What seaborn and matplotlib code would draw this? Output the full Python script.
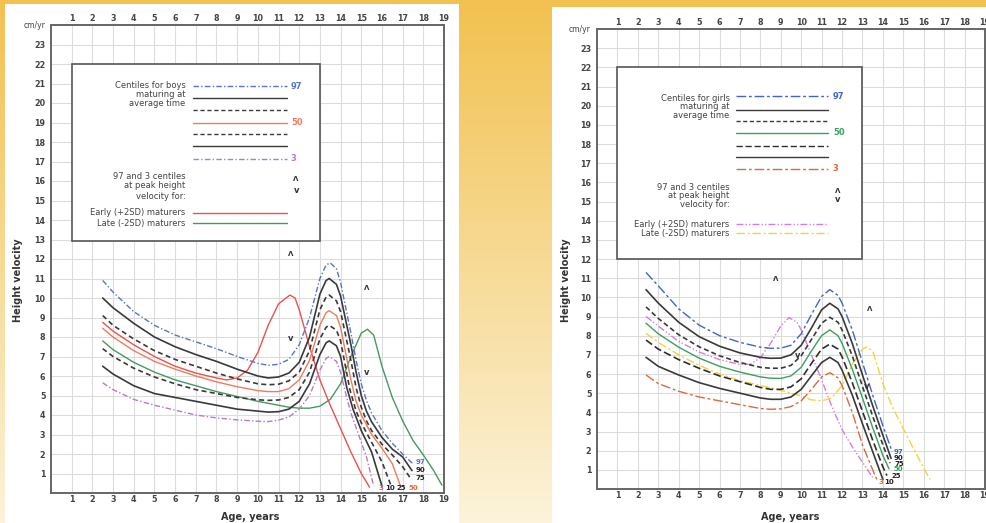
import numpy as np
import matplotlib
matplotlib.use("Agg")
import matplotlib.pyplot as plt
import seaborn as sns
from matplotlib.patches import Rectangle

sns.set_style("white")
plt.rcParams['font.family'] = ['DejaVu Sans']

# ---------------- data: boys (left panel) ----------------
B97_X = [2.5, 3, 4, 5, 6, 7, 8, 9, 10, 10.5, 11, 11.5, 12, 12.5, 13, 13.3, 13.5, 13.8, 14, 14.5, 14.75, 15, 15.25, 15.5, 16, 16.5, 17, 17.5]
B97_Y = [10.9, 10.3, 9.3, 8.6, 8.1, 7.75, 7.4, 7.0, 6.65, 6.55, 6.6, 6.85, 7.6, 9.0, 11.0, 11.7, 11.8, 11.5, 10.8, 8.2, 6.8, 5.6, 4.75, 4.1, 3.2, 2.55, 2.0, 1.5]
B90_X = [2.5, 3, 4, 5, 6, 7, 8, 9, 10, 10.5, 11, 11.5, 12, 12.5, 13, 13.3, 13.45, 13.8, 14, 14.5, 14.75, 15, 15.25, 15.5, 16, 16.5, 17, 17.45]
B90_Y = [10.0, 9.5, 8.7, 8.0, 7.5, 7.1, 6.75, 6.35, 6.0, 5.9, 5.95, 6.15, 6.7, 8.0, 10.2, 10.9, 11.0, 10.7, 10.1, 7.6, 6.2, 5.0, 4.2, 3.65, 2.85, 2.25, 1.85, 1.15]
B75_X = [2.5, 3, 4, 5, 6, 7, 8, 9, 10, 10.5, 11, 11.5, 12, 12.5, 13, 13.3, 13.45, 13.8, 14, 14.5, 14.75, 15, 15.25, 15.5, 16, 16.5, 17, 17.35]
B75_Y = [9.1, 8.6, 7.9, 7.3, 6.85, 6.5, 6.15, 5.85, 5.6, 5.55, 5.58, 5.75, 6.2, 7.3, 9.4, 10.05, 10.15, 9.85, 9.3, 6.8, 5.4, 4.4, 3.7, 3.2, 2.5, 1.95, 1.35, 0.8]
B50_X = [2.5, 3, 4, 5, 6, 7, 8, 9, 10, 10.5, 11, 11.5, 12, 12.5, 13, 13.3, 13.45, 13.8, 14, 14.5, 14.75, 15, 15.5, 16, 16.5, 16.9]
B50_Y = [8.45, 8.0, 7.3, 6.75, 6.35, 6.0, 5.7, 5.45, 5.25, 5.2, 5.2, 5.35, 5.8, 6.8, 8.6, 9.25, 9.35, 9.1, 8.5, 5.8, 4.7, 4.0, 3.0, 2.3, 1.5, 0.35]
B25_X = [2.5, 3, 4, 5, 6, 7, 8, 9, 10, 10.5, 11, 11.5, 12, 12.5, 13, 13.3, 13.45, 13.8, 14, 14.45, 14.75, 15, 15.5, 16, 16.45]
B25_Y = [7.4, 7.0, 6.4, 5.95, 5.6, 5.3, 5.1, 4.9, 4.78, 4.75, 4.77, 4.9, 5.3, 6.2, 7.9, 8.5, 8.6, 8.35, 7.8, 5.3, 4.2, 3.6, 2.6, 1.6, 0.35]
B10_X = [2.5, 3, 4, 5, 6, 7, 8, 9, 10, 10.5, 11, 11.5, 12, 12.5, 13, 13.3, 13.45, 13.8, 14, 14.3, 14.6, 15, 15.5, 16.0]
B10_Y = [6.5, 6.1, 5.5, 5.1, 4.9, 4.7, 4.5, 4.3, 4.2, 4.15, 4.17, 4.3, 4.7, 5.6, 7.1, 7.7, 7.8, 7.55, 7.0, 5.4, 4.3, 3.2, 2.1, 0.35]
B03_X = [2.5, 3, 4, 5, 6, 7, 8, 9, 10, 10.5, 11, 11.5, 12, 12.5, 13, 13.3, 13.45, 13.8, 14, 14.2, 14.5, 15, 15.25, 15.6]
B03_Y = [5.65, 5.3, 4.8, 4.5, 4.25, 4.0, 3.85, 3.75, 3.68, 3.66, 3.74, 3.9, 4.3, 5.0, 6.3, 6.9, 7.0, 6.75, 6.2, 5.3, 4.1, 2.6, 1.86, 0.35]
B_EARLY_X = [2.5, 3, 4, 5, 6, 7, 8, 8.5, 9, 9.5, 10, 10.5, 11, 11.55, 11.8, 12, 12.5, 13, 13.5, 14, 14.5, 15, 15.4]
B_EARLY_Y = [8.75, 8.3, 7.6, 7.0, 6.5, 6.15, 5.9, 5.8, 5.9, 6.3, 7.2, 8.6, 9.7, 10.15, 10.0, 9.4, 7.5, 5.8, 4.5, 3.3, 2.1, 1.0, 0.3]
B_LATE_X = [2.5, 3, 4, 5, 6, 7, 8, 9, 10, 11, 11.5, 12, 12.5, 13, 13.5, 14, 14.5, 15, 15.3, 15.6, 16, 16.5, 17, 17.5, 18, 18.5, 18.9]
B_LATE_Y = [7.8, 7.35, 6.7, 6.2, 5.8, 5.5, 5.2, 4.95, 4.7, 4.5, 4.4, 4.35, 4.35, 4.45, 4.8, 5.6, 7.0, 8.2, 8.4, 8.1, 6.5, 4.9, 3.7, 2.7, 1.95, 1.15, 0.4]

# ---------------- data: girls (right panel) ----------------
G_X = [2.4, 3, 4, 5, 6, 7, 8, 8.5, 9, 9.5, 10, 10.5, 11, 11.4, 11.8, 12, 12.5, 13, 13.5, 14]
G97_X = G_X + [14.45]
G97_Y = [11.3, 10.6, 9.4, 8.55, 8.0, 7.65, 7.4, 7.34, 7.35, 7.5, 8.1, 9.1, 10.05, 10.4, 10.1, 9.7, 8.3, 6.6, 4.9, 3.3, 1.95]
G90_X = G_X + [14.4]
G90_Y = [10.4, 9.7, 8.7, 7.95, 7.45, 7.1, 6.87, 6.82, 6.83, 7.0, 7.5, 8.4, 9.35, 9.69, 9.4, 9.0, 7.6, 5.95, 4.35, 2.8, 1.6]
G75_X = G_X + [14.35]
G75_Y = [9.5, 8.9, 8.05, 7.42, 6.95, 6.6, 6.35, 6.3, 6.3, 6.45, 6.95, 7.8, 8.65, 8.96, 8.7, 8.3, 6.95, 5.35, 3.8, 2.3, 1.35]
G50_X = G_X + [14.3]
G50_Y = [8.65, 8.1, 7.4, 6.83, 6.4, 6.1, 5.85, 5.78, 5.77, 5.9, 6.35, 7.2, 8.0, 8.3, 8.0, 7.6, 6.25, 4.75, 3.2, 1.75, 1.05]
G25_X = G_X + [14.2]
G25_Y = [7.77, 7.3, 6.75, 6.3, 5.9, 5.6, 5.3, 5.2, 5.2, 5.33, 5.75, 6.55, 7.3, 7.56, 7.3, 6.9, 5.55, 4.05, 2.55, 1.15, 0.7]
G10_X = G_X
G10_Y = [6.87, 6.4, 5.95, 5.55, 5.25, 5.0, 4.75, 4.68, 4.68, 4.8, 5.2, 5.9, 6.6, 6.87, 6.6, 6.2, 4.9, 3.4, 1.95, 0.5]
G03_X = G_X[:-1] + [13.7]
G03_Y = [5.95, 5.5, 5.1, 4.8, 4.6, 4.4, 4.2, 4.16, 4.18, 4.3, 4.6, 5.2, 5.85, 6.07, 5.8, 5.4, 4.0, 2.3, 1.0, 0.5]
G_EARLY_X = [2.4, 3, 4, 5, 6, 7, 7.5, 8, 8.5, 9, 9.4, 9.8, 10, 10.5, 11, 11.5, 12, 12.5, 13, 13.5]
G_EARLY_Y = [9.0, 8.5, 7.7, 7.15, 6.75, 6.5, 6.5, 6.85, 7.6, 8.5, 8.94, 8.7, 8.3, 7.0, 5.7, 4.3, 3.1, 2.2, 1.4, 0.6]
G_LATE_X = [2.4, 3, 4, 5, 6, 7, 8, 9, 10, 10.5, 11, 11.5, 12, 12.5, 13, 13.2, 13.5, 14, 14.5, 15, 15.5, 16, 16.3]
G_LATE_Y = [8.12, 7.65, 7.0, 6.45, 6.0, 5.65, 5.4, 5.15, 4.85, 4.65, 4.6, 4.75, 5.4, 6.5, 7.3, 7.42, 7.2, 5.5, 4.2, 3.15, 2.1, 1.1, 0.5]

X_TICKS = list(range(1, 20))
Y_TICKS = list(range(1, 24))

# ---------------- figure ----------------
fig = plt.figure(figsize=(9.87, 5.23), dpi=100)

bg = fig.add_axes([0, 0, 1, 1], zorder=-10)
t = np.linspace(0, 1, 256)[:, None, None]
top_c = np.array([242, 193, 80]) / 255.0
bot_c = np.array([252, 243, 218]) / 255.0
img = top_c[None, None, :] * (1 - t) + bot_c[None, None, :] * t
img = np.repeat(img, 4, axis=1)
bg.imshow(img, aspect='auto', extent=[0, 1, 0, 1], origin='upper')
bg.add_patch(Rectangle((5 / 987, 0), 454 / 987, 1 - 4 / 523, transform=bg.transAxes,
                       facecolor='white', edgecolor='none'))
bg.add_patch(Rectangle((552 / 987, 0), 1 - 552 / 987, 1 - 7 / 523, transform=bg.transAxes,
                       facecolor='white', edgecolor='none'))
bg.set_xlim(0, 1); bg.set_ylim(0, 1)
bg.axis('off')

axL = fig.add_axes([51 / 987, 1 - 493 / 523, 393 / 987, 468 / 523])
axR = fig.add_axes([597 / 987, 1 - 489 / 523, 388 / 987, 460 / 523])

DARK = '#3a3a3a'
TXT = '#444444'


def setup(ax):
    ax.set_facecolor('white')
    ax.set_xlim(0, 19)
    ax.set_ylim(0, 24)
    ax.set_xticks(X_TICKS)
    ax.set_yticks(Y_TICKS)
    ax.set_xticklabels([str(v) for v in X_TICKS])
    ax.set_yticklabels([str(v) for v in Y_TICKS])
    ax.grid(True, color='#dcdcdc', lw=0.8)
    ax.set_axisbelow(True)
    ax.tick_params(axis='x', top=True, labeltop=True, bottom=True, labelbottom=True,
                   length=0, labelsize=5.8, colors=TXT, pad=1.5)
    ax.tick_params(axis='y', length=0, labelsize=5.8, colors=TXT, pad=4)
    for lab in ax.get_xticklabels() + ax.get_yticklabels():
        lab.set_fontweight('bold')
    for s in ax.spines.values():
        s.set_color('#666666')
        s.set_linewidth(1.4)
    ax.set_xlabel('')
    ax.set_ylabel('')


def curve(ax, xs, ys, color, ls, lw=1.0):
    sns.lineplot(x=xs, y=ys, ax=ax, color=color, linestyle=ls, linewidth=lw,
                 sort=False, estimator=None, legend=False, zorder=2)


setup(axL)
setup(axR)

# boys styles
B_STY = {
    'p97': ('#5674cc', (0, (4, 1.6, 1, 1.6))),
    'p90': (DARK, '-'),
    'p75': (DARK, (0, (3, 2))),
    'p50': ('#ef7b5c', '-'),
    'p25': (DARK, (0, (3, 2))),
    'p10': (DARK, '-'),
    'p03': ('#b47ccb', (0, (4, 1.6, 1, 1.6))),
    'early': ('#e8524f', '-'),
    'late': ('#46995e', '-'),
}
curve(axL, B_LATE_X, B_LATE_Y, *B_STY['late'])
curve(axL, B_EARLY_X, B_EARLY_Y, *B_STY['early'])
curve(axL, B97_X, B97_Y, *B_STY['p97'])
curve(axL, B90_X, B90_Y, *B_STY['p90'], lw=1.2)
curve(axL, B75_X, B75_Y, *B_STY['p75'], lw=1.2)
curve(axL, B50_X, B50_Y, *B_STY['p50'])
curve(axL, B25_X, B25_Y, *B_STY['p25'], lw=1.2)
curve(axL, B10_X, B10_Y, *B_STY['p10'], lw=1.2)
curve(axL, B03_X, B03_Y, *B_STY['p03'])

# girls styles
G_STY = {
    'p97': ('#3f66c8', (0, (7, 2, 2, 2))),
    'p90': (DARK, '-'),
    'p75': (DARK, (0, (3, 1.8))),
    'p50': ('#3aa060', '-'),
    'p25': ('#2e2e2e', (0, (4.5, 2))),
    'p10': (DARK, '-'),
    'p03': ('#e0683a', (0, (7, 2, 2, 2))),
    'early': ('#d57ee3', (0, (5, 1.5, 1, 1.5, 1, 1.5))),
    'late': ('#f2d43a', (0, (6, 2, 1.5, 2))),
}
curve(axR, G_LATE_X, G_LATE_Y, *G_STY['late'])
curve(axR, G_EARLY_X, G_EARLY_Y, *G_STY['early'])
curve(axR, G97_X, G97_Y, *G_STY['p97'])
curve(axR, G90_X, G90_Y, *G_STY['p90'], lw=1.2)
curve(axR, G75_X, G75_Y, *G_STY['p75'], lw=1.2)
curve(axR, G50_X, G50_Y, *G_STY['p50'])
curve(axR, G25_X, G25_Y, *G_STY['p25'], lw=1.2)
curve(axR, G10_X, G10_Y, *G_STY['p10'], lw=1.2)
curve(axR, G03_X, G03_Y, *G_STY['p03'])

FS = 6.0


def legend_box(ax, y0, y1, title, sty, line_ys, title_ys, lbl, peak_ys, mark_ys,
               mat_ys, x_text, x0, x1, x_lab):
    ax.add_patch(Rectangle((1, y0), 12, y1 - y0, facecolor='white', edgecolor='#555555',
                           lw=1.2, zorder=3))
    for s, yy in zip(title, title_ys):
        ax.text(x_text, yy, s, ha='right', va='center', fontsize=FS, color=TXT, zorder=4)
    keys = ['p97', 'p90', 'p75', 'p50', 'p25', 'p10', 'p03']
    for k, yy in zip(keys, line_ys):
        c, ls = sty[k]
        ax.plot([x0, x1], [yy, yy], color=c, linestyle=ls, lw=1.0, zorder=4)
    for k, txt in lbl:
        c = sty[k][0]
        ax.text(x_lab, line_ys[keys.index(k)], txt, ha='left', va='center', fontsize=FS,
                color=c, fontweight='bold', zorder=4)
    for s, yy in zip(['97 and 3 centiles', 'at peak height', 'velocity for:'], peak_ys):
        ax.text(x_text, yy, s, ha='right', va='center', fontsize=FS, color=TXT, zorder=4)
    ax.text(x_lab + 0.12, mark_ys[0], 'Λ', ha='left', va='center', fontsize=5, color='#333',
            fontweight='bold', zorder=4)
    ax.text(x_lab + 0.12, mark_ys[1], 'v', ha='left', va='center', fontsize=6, color='#333',
            fontweight='bold', zorder=4)
    for s, k, yy in zip(['Early (+2SD) maturers', 'Late (-2SD) maturers'], ['early', 'late'], mat_ys):
        ax.text(x_text, yy, s, ha='right', va='center', fontsize=FS, color=TXT, zorder=4)
        c, ls = sty[k]
        ax.plot([x0, x1], [yy, yy], color=c, linestyle=ls, lw=1.0, zorder=4)


legend_box(axL, 12.9, 22, ['Centiles for boys', 'maturing at', 'average time'], B_STY,
           [20.85, 20.25, 19.65, 19.0, 18.4, 17.8, 17.15], [20.9, 20.45, 20.0],
           [('p97', '97'), ('p50', '50'), ('p03', '3')],
           [16.25, 15.75, 15.2], [16.1, 15.5], [14.37, 13.83], 6.5, 6.85, 11.4, 11.6)
legend_box(axR, 12, 22, ['Centiles for girls', 'maturing at', 'average time'], G_STY,
           [20.5, 19.8, 19.2, 18.6, 17.9, 17.3, 16.7], [20.4, 19.95, 19.5],
           [('p97', '97'), ('p50', '50'), ('p03', '3')],
           [15.75, 15.3, 14.85], [15.55, 15.1], [13.82, 13.34], 6.5, 6.8, 11.3, 11.55)


def mark(ax, x, y, up):
    if up:
        ax.text(x, y, 'Λ', ha='center', va='center', fontsize=5, color='#333', fontweight='bold', zorder=5)
    else:
        ax.text(x, y, 'v', ha='center', va='center', fontsize=6, color='#333', fontweight='bold', zorder=5)


mark(axL, 11.6, 12.25, True); mark(axL, 11.6, 7.9, False)
mark(axL, 15.28, 10.5, True); mark(axL, 15.25, 6.2, False)
mark(axR, 8.77, 10.94, True); mark(axR, 9.8, 6.94, False)
mark(axR, 13.35, 9.39, True); mark(axR, 13.19, 5.37, False)

# end labels
EFS = 5.0
for ax, items in [
    (axL, [(17.85, 1.6, '97', B_STY['p97'][0]), (17.85, 1.18, '90', '#222'), (17.85, 0.78, '75', '#222'),
           (15.93, 0.27, '3', '#e05a70'), (16.38, 0.27, '10', '#222'), (16.94, 0.27, '25', '#222'),
           (17.54, 0.27, '50', '#f06a30')]),
    (axR, [(14.75, 1.95, '97', G_STY['p97'][0]), (14.78, 1.62, '90', '#222'), (14.78, 1.32, '75', '#222'),
           (14.78, 1.02, '50', G_STY['p50'][0]), (14.65, 0.68, '25', '#222'),
           (13.89, 0.36, '3', '#e0683a'), (14.29, 0.36, '10', '#222')]),
]:
    for x, y, s, c in items:
        ax.text(x, y, s, ha='center', va='center', fontsize=EFS, color=c, fontweight='bold', zorder=5)

# axis titles
fig.text(35 / 987, 1 - 26 / 523, 'cm/yr', ha='center', va='center', fontsize=5.5, color=TXT)
fig.text(580 / 987, 1 - 30 / 523, 'cm/yr', ha='center', va='center', fontsize=5.5, color=TXT)
fig.text(18 / 987, 1 - 280 / 523, 'Height velocity', rotation=90, ha='center', va='center',
         fontsize=7, fontweight='bold', color='#333')
fig.text(566 / 987, 1 - 280 / 523, 'Height velocity', rotation=90, ha='center', va='center',
         fontsize=7, fontweight='bold', color='#333')
fig.text(250 / 987, 1 - 517 / 523, 'Age, years', ha='center', va='center',
         fontsize=7, fontweight='bold', color='#333')
fig.text(790 / 987, 1 - 517 / 523, 'Age, years', ha='center', va='center',
         fontsize=7, fontweight='bold', color='#333')

fig.savefig('out.png', dpi=100)
